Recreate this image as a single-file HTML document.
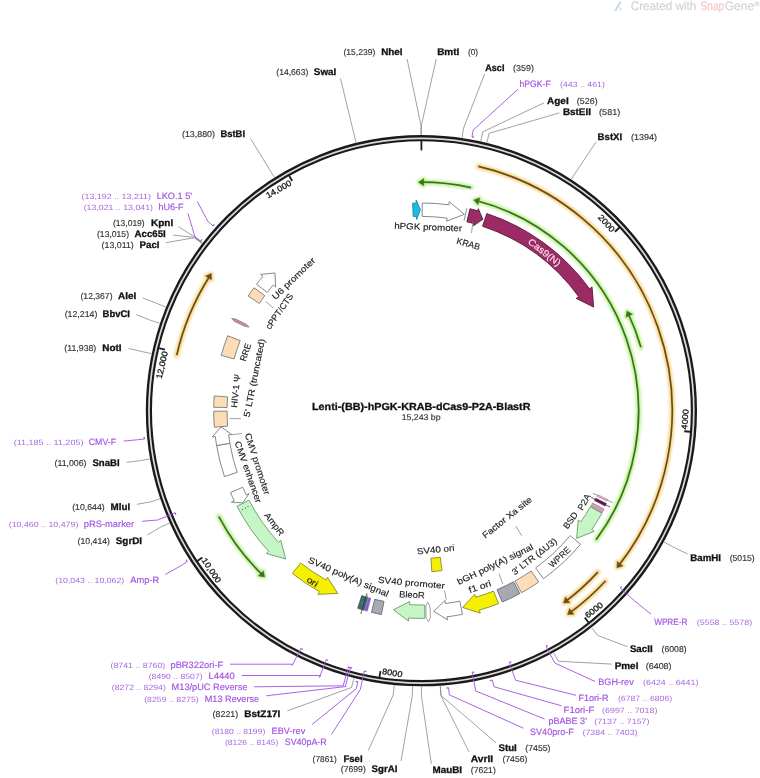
<!DOCTYPE html>
<html><head><meta charset="utf-8"><style>
html,body{margin:0;padding:0;background:#fff;}
svg{display:block;font-family:"Liberation Sans",sans-serif;will-change:transform;text-rendering:geometricPrecision;}
</style></head><body>
<svg width="760" height="778" viewBox="0 0 760 778">
<defs><filter id="glow" x="-20%" y="-20%" width="140%" height="140%"><feGaussianBlur stdDeviation="0.9"/></filter></defs>
<rect width="760" height="778" fill="#fff"/>
<g filter="url(#glow)"><path d="M470.97,187.64 A228.50,228.50 0 0 0 421.59,182.20" fill="none" stroke="#c2f29a" stroke-width="5.5" stroke-linecap="round"/>
<path d="M418.41,182.22 L423.75,178.61 L423.67,185.81 Z" fill="#c2f29a" stroke="#c2f29a" stroke-width="4" stroke-linejoin="round"/></g>
<path d="M470.97,187.64 A228.50,228.50 0 0 0 421.59,182.20" fill="none" stroke="#3a7220" stroke-width="1.7"/>
<path d="M418.41,182.22 L423.75,178.61 L423.67,185.81 Z" fill="#3a7220" stroke="#3a7220" stroke-width="0.4"/>
<g filter="url(#glow)"><path d="M218.90,516.56 A228.50,228.50 0 0 0 262.39,574.80" fill="none" stroke="#c2f29a" stroke-width="5.5" stroke-linecap="round"/>
<path d="M264.69,577.00 L258.35,575.88 L263.40,570.75 Z" fill="#c2f29a" stroke="#c2f29a" stroke-width="4" stroke-linejoin="round"/></g>
<path d="M218.90,516.56 A228.50,228.50 0 0 0 262.39,574.80" fill="none" stroke="#3a7220" stroke-width="1.7"/>
<path d="M264.69,577.00 L258.35,575.88 L263.40,570.75 Z" fill="#3a7220" stroke="#3a7220" stroke-width="0.4"/>
<g filter="url(#glow)"><path d="M640.94,347.33 A228.50,228.50 0 0 0 628.32,313.76" fill="none" stroke="#c2f29a" stroke-width="5.5" stroke-linecap="round"/>
<path d="M626.95,310.89 L632.48,314.19 L625.93,317.18 Z" fill="#c2f29a" stroke="#c2f29a" stroke-width="4" stroke-linejoin="round"/></g>
<path d="M640.94,347.33 A228.50,228.50 0 0 0 628.32,313.76" fill="none" stroke="#3a7220" stroke-width="1.7"/>
<path d="M626.95,310.89 L632.48,314.19 L625.93,317.18 Z" fill="#3a7220" stroke="#3a7220" stroke-width="0.4"/>
<g filter="url(#glow)"><path d="M596.07,539.80 A217.20,217.20 0 0 0 476.84,200.70" fill="none" stroke="#c2f29a" stroke-width="5.5" stroke-linecap="round"/>
<path d="M473.76,199.91 L479.84,197.77 L477.94,204.72 Z" fill="#c2f29a" stroke="#c2f29a" stroke-width="4" stroke-linejoin="round"/></g>
<path d="M596.07,539.80 A217.20,217.20 0 0 0 476.84,200.70" fill="none" stroke="#3a7220" stroke-width="1.7"/>
<path d="M473.76,199.91 L479.84,197.77 L477.94,204.72 Z" fill="#3a7220" stroke="#3a7220" stroke-width="0.4"/>
<g filter="url(#glow)"><path d="M478.33,166.45 A250.80,250.80 0 0 1 618.83,565.36" fill="none" stroke="#f6d890" stroke-width="5.5" stroke-linecap="round"/>
<path d="M616.86,567.85 L622.99,565.88 L617.28,561.49 Z" fill="#f6d890" stroke="#f6d890" stroke-width="4" stroke-linejoin="round"/></g>
<path d="M478.33,166.45 A250.80,250.80 0 0 1 618.83,565.36" fill="none" stroke="#6e4c14" stroke-width="1.7"/>
<path d="M616.86,567.85 L622.99,565.88 L617.28,561.49 Z" fill="#6e4c14" stroke="#6e4c14" stroke-width="0.4"/>
<g filter="url(#glow)"><path d="M605.51,581.01 A250.80,250.80 0 0 1 570.08,612.68" fill="none" stroke="#f6d890" stroke-width="5.5" stroke-linecap="round"/>
<path d="M567.50,614.55 L573.94,614.30 L569.62,608.54 Z" fill="#f6d890" stroke="#f6d890" stroke-width="4" stroke-linejoin="round"/></g>
<path d="M605.51,581.01 A250.80,250.80 0 0 1 570.08,612.68" fill="none" stroke="#6e4c14" stroke-width="1.7"/>
<path d="M567.50,614.55 L573.94,614.30 L569.62,608.54 Z" fill="#6e4c14" stroke="#6e4c14" stroke-width="0.4"/>
<g filter="url(#glow)"><path d="M597.80,572.11 A239.10,239.10 0 0 1 566.00,601.12" fill="none" stroke="#f6d890" stroke-width="5.5" stroke-linecap="round"/>
<path d="M563.45,603.03 L569.88,602.68 L565.48,596.98 Z" fill="#f6d890" stroke="#f6d890" stroke-width="4" stroke-linejoin="round"/></g>
<path d="M597.80,572.11 A239.10,239.10 0 0 1 566.00,601.12" fill="none" stroke="#6e4c14" stroke-width="1.7"/>
<path d="M563.45,603.03 L569.88,602.68 L565.48,596.98 Z" fill="#6e4c14" stroke="#6e4c14" stroke-width="0.4"/>
<g filter="url(#glow)"><path d="M176.74,355.11 A250.90,250.90 0 0 1 209.61,276.17" fill="none" stroke="#f6d890" stroke-width="5.5" stroke-linecap="round"/>
<path d="M211.34,273.50 L205.43,276.06 L211.54,279.87 Z" fill="#f6d890" stroke="#f6d890" stroke-width="4" stroke-linejoin="round"/></g>
<path d="M176.74,355.11 A250.90,250.90 0 0 1 209.61,276.17" fill="none" stroke="#6e4c14" stroke-width="1.7"/>
<path d="M211.34,273.50 L205.43,276.06 L211.54,279.87 Z" fill="#6e4c14" stroke="#6e4c14" stroke-width="0.4"/>
<circle cx="421.4" cy="410.7" r="272.5" fill="none" stroke="#1a1a1a" stroke-width="6.2"/>
<circle cx="421.4" cy="410.7" r="272.4" fill="none" stroke="#dadada" stroke-width="1.7"/>
<line x1="421.40" y1="140.90" x2="421.40" y2="150.40" stroke="#1e1e1e" stroke-width="1.8"/>
<line x1="619.47" y1="227.51" x2="614.92" y2="231.72" stroke="#1e1e1e" stroke-width="1.8"/>
<text transform="translate(606.59 223.11) rotate(47.23)" x="0" y="2.99" font-size="8.3" fill="#1a1a1a" text-anchor="middle" stroke="#1a1a1a" stroke-width="0.3" textLength="20.36" lengthAdjust="spacingAndGlyphs">2000</text>
<line x1="690.38" y1="431.73" x2="684.20" y2="431.24" stroke="#1e1e1e" stroke-width="1.8"/>
<text transform="translate(684.86 419.28) rotate(-85.53)" x="0" y="2.99" font-size="8.3" fill="#1a1a1a" text-anchor="middle" stroke="#1a1a1a" stroke-width="0.3" textLength="20.36" lengthAdjust="spacingAndGlyphs">4000</text>
<line x1="588.60" y1="622.45" x2="584.76" y2="617.58" stroke="#1e1e1e" stroke-width="1.8"/>
<text transform="translate(593.99 609.94) rotate(-38.30)" x="0" y="2.99" font-size="8.3" fill="#1a1a1a" text-anchor="middle" stroke="#1a1a1a" stroke-width="0.3" textLength="20.36" lengthAdjust="spacingAndGlyphs">6000</text>
<line x1="379.48" y1="677.22" x2="380.44" y2="671.10" stroke="#1e1e1e" stroke-width="1.8"/>
<text transform="translate(392.32 672.69) rotate(8.94)" x="0" y="2.99" font-size="8.3" fill="#1a1a1a" text-anchor="middle" stroke="#1a1a1a" stroke-width="0.3" textLength="20.36" lengthAdjust="spacingAndGlyphs">8000</text>
<line x1="197.27" y1="560.89" x2="202.42" y2="557.44" stroke="#1e1e1e" stroke-width="1.8"/>
<text transform="translate(211.60 570.29) rotate(56.17)" x="0" y="2.99" font-size="8.3" fill="#1a1a1a" text-anchor="middle" stroke="#1a1a1a" stroke-width="0.3" textLength="27.99" lengthAdjust="spacingAndGlyphs">10,000</text>
<line x1="158.95" y1="348.13" x2="164.99" y2="349.57" stroke="#1e1e1e" stroke-width="1.8"/>
<text transform="translate(161.78 365.04) rotate(-76.59)" x="0" y="2.99" font-size="8.3" fill="#1a1a1a" text-anchor="middle" stroke="#1a1a1a" stroke-width="0.3" textLength="27.99" lengthAdjust="spacingAndGlyphs">12,000</text>
<line x1="289.13" y1="175.55" x2="292.17" y2="180.95" stroke="#1e1e1e" stroke-width="1.8"/>
<text transform="translate(278.64 189.10) rotate(-29.36)" x="0" y="2.99" font-size="8.3" fill="#1a1a1a" text-anchor="middle" stroke="#1a1a1a" stroke-width="0.3" textLength="27.99" lengthAdjust="spacingAndGlyphs">14,000</text>
<polyline points="420.95,134.90 420.93,125.20 407.10,59.10" fill="none" stroke="#8a8a8a" stroke-width="0.8"/>
<polyline points="421.40,134.90 421.40,125.20 436.20,59.10" fill="none" stroke="#8a8a8a" stroke-width="0.8"/>
<polyline points="356.09,142.74 353.79,133.32 340.50,78.50" fill="none" stroke="#8a8a8a" stroke-width="0.8"/>
<polyline points="462.06,137.91 463.49,128.32 484.70,73.80" fill="none" stroke="#8a8a8a" stroke-width="0.8"/>
<polyline points="480.73,141.36 482.82,131.88 544.10,102.80" fill="none" stroke="#8a8a8a" stroke-width="0.8"/>
<polyline points="486.82,142.77 489.12,133.35 559.40,112.90" fill="none" stroke="#8a8a8a" stroke-width="0.8"/>
<polyline points="571.30,179.19 576.57,171.05 596.20,141.80" fill="none" stroke="#8a8a8a" stroke-width="0.8"/>
<polyline points="274.47,177.30 269.30,169.09 250.50,138.50" fill="none" stroke="#8a8a8a" stroke-width="0.8"/>
<polyline points="202.52,242.90 194.82,237.00 178.40,226.70" fill="none" stroke="#8a8a8a" stroke-width="0.8"/>
<polyline points="202.24,243.26 194.54,237.37 173.20,235.20" fill="none" stroke="#8a8a8a" stroke-width="0.8"/>
<polyline points="201.97,243.62 194.25,237.75 165.80,242.70" fill="none" stroke="#8a8a8a" stroke-width="0.8"/>
<polyline points="165.82,307.04 156.83,303.40 142.60,297.90" fill="none" stroke="#8a8a8a" stroke-width="0.8"/>
<polyline points="159.80,323.36 150.59,320.28 136.30,314.70" fill="none" stroke="#8a8a8a" stroke-width="0.8"/>
<polyline points="151.57,353.62 142.08,351.61 128.30,348.40" fill="none" stroke="#8a8a8a" stroke-width="0.8"/>
<polyline points="149.85,458.91 140.30,460.60 126.70,462.40" fill="none" stroke="#8a8a8a" stroke-width="0.8"/>
<polyline points="160.03,498.74 150.84,501.84 136.90,504.30" fill="none" stroke="#8a8a8a" stroke-width="0.8"/>
<polyline points="169.54,523.09 160.68,527.04 147.40,535.00" fill="none" stroke="#8a8a8a" stroke-width="0.8"/>
<polyline points="353.94,678.12 351.56,687.53 287.40,710.80" fill="none" stroke="#8a8a8a" stroke-width="0.8"/>
<polyline points="394.22,685.16 393.26,694.81 368.40,750.50" fill="none" stroke="#8a8a8a" stroke-width="0.8"/>
<polyline points="412.59,686.36 412.28,696.05 401.00,761.00" fill="none" stroke="#8a8a8a" stroke-width="0.8"/>
<polyline points="421.46,686.50 421.46,696.20 431.30,763.70" fill="none" stroke="#8a8a8a" stroke-width="0.8"/>
<polyline points="440.20,685.86 440.86,695.54 469.00,751.80" fill="none" stroke="#8a8a8a" stroke-width="0.8"/>
<polyline points="440.31,685.85 440.98,695.53 495.80,742.60" fill="none" stroke="#8a8a8a" stroke-width="0.8"/>
<polyline points="553.68,652.71 558.33,661.22 611.60,664.10" fill="none" stroke="#8a8a8a" stroke-width="0.8"/>
<polyline points="591.60,627.72 597.59,635.35 627.40,646.70" fill="none" stroke="#8a8a8a" stroke-width="0.8"/>
<polyline points="663.91,542.05 672.44,546.67 687.60,554.00" fill="none" stroke="#8a8a8a" stroke-width="0.8"/>
<path d="M471.97,136.83 A278.50,278.50 0 0 1 474.00,137.21" fill="none" stroke="#a050e0" stroke-width="1.2"/>
<polyline points="471.97,136.83 473.24,129.95 518.00,89.20" fill="none" stroke="#a050e0" stroke-width="0.9" stroke-linejoin="round"/>
<path d="M213.01,225.94 A278.50,278.50 0 0 1 214.46,224.31" fill="none" stroke="#a050e0" stroke-width="1.2"/>
<polyline points="213.01,225.94 207.77,221.30 197.40,201.50" fill="none" stroke="#a050e0" stroke-width="0.9" stroke-linejoin="round"/>
<path d="M200.52,241.07 A278.50,278.50 0 0 1 201.92,239.26" fill="none" stroke="#a050e0" stroke-width="1.2"/>
<polyline points="200.52,241.07 194.96,236.81 187.90,213.30" fill="none" stroke="#a050e0" stroke-width="0.9" stroke-linejoin="round"/>
<path d="M144.35,439.03 A278.50,278.50 0 0 1 144.12,436.75" fill="none" stroke="#a050e0" stroke-width="1.2"/>
<polyline points="144.35,439.03 137.38,439.75 123.60,441.10" fill="none" stroke="#a050e0" stroke-width="0.9" stroke-linejoin="round"/>
<path d="M175.12,512.78 A266.60,266.60 0 0 0 175.92,514.71" fill="none" stroke="#a050e0" stroke-width="1.2"/>
<polyline points="175.12,512.78 157.66,520.02 142.10,521.30" fill="none" stroke="#a050e0" stroke-width="0.9" stroke-linejoin="round"/>
<path d="M187.33,561.61 A278.50,278.50 0 0 1 186.16,559.77" fill="none" stroke="#a050e0" stroke-width="1.2"/>
<polyline points="187.33,561.61 181.45,565.40 165.30,574.50" fill="none" stroke="#a050e0" stroke-width="0.9" stroke-linejoin="round"/>
<path d="M300.83,648.48 A266.60,266.60 0 0 0 302.69,649.41" fill="none" stroke="#a050e0" stroke-width="1.2"/>
<polyline points="300.83,648.48 292.28,665.33 292.10,664.20 230.00,664.20" fill="none" stroke="#a050e0" stroke-width="0.9" stroke-linejoin="round"/>
<path d="M326.24,659.74 A266.60,266.60 0 0 0 327.98,660.40" fill="none" stroke="#a050e0" stroke-width="1.2"/>
<polyline points="326.24,659.74 319.49,677.39 320.50,675.50 241.60,675.50" fill="none" stroke="#a050e0" stroke-width="0.9" stroke-linejoin="round"/>
<path d="M348.44,667.12 A266.60,266.60 0 0 0 350.77,667.77" fill="none" stroke="#a050e0" stroke-width="1.2"/>
<polyline points="348.44,667.12 343.27,685.30 343.40,685.80 254.00,686.80" fill="none" stroke="#a050e0" stroke-width="0.9" stroke-linejoin="round"/>
<path d="M350.45,667.69 A266.60,266.60 0 0 0 352.15,668.15" fill="none" stroke="#a050e0" stroke-width="1.2"/>
<polyline points="350.45,667.69 345.42,685.90 346.00,686.50 266.30,695.80" fill="none" stroke="#a050e0" stroke-width="0.9" stroke-linejoin="round"/>
<path d="M357.85,681.85 A278.50,278.50 0 0 1 355.73,681.35" fill="none" stroke="#a050e0" stroke-width="1.2"/>
<polyline points="357.85,681.85 356.25,688.67 311.80,724.70" fill="none" stroke="#a050e0" stroke-width="0.9" stroke-linejoin="round"/>
<path d="M364.32,671.12 A266.60,266.60 0 0 0 366.36,671.56" fill="none" stroke="#a050e0" stroke-width="1.2"/>
<polyline points="364.32,671.12 360.27,689.58 331.60,734.20" fill="none" stroke="#a050e0" stroke-width="0.9" stroke-linejoin="round"/>
<path d="M448.62,687.87 A278.50,278.50 0 0 1 446.45,688.07" fill="none" stroke="#a050e0" stroke-width="1.2"/>
<polyline points="448.62,687.87 449.31,694.83 523.40,728.20" fill="none" stroke="#a050e0" stroke-width="0.9" stroke-linejoin="round"/>
<path d="M472.13,672.43 A266.60,266.60 0 0 0 474.29,672.00" fill="none" stroke="#a050e0" stroke-width="1.2"/>
<polyline points="472.13,672.43 475.73,690.98 544.50,719.00" fill="none" stroke="#a050e0" stroke-width="0.9" stroke-linejoin="round"/>
<path d="M492.30,680.02 A278.50,278.50 0 0 1 489.97,680.63" fill="none" stroke="#a050e0" stroke-width="1.2"/>
<polyline points="492.30,680.02 494.08,686.79 561.60,705.80" fill="none" stroke="#a050e0" stroke-width="0.9" stroke-linejoin="round"/>
<path d="M509.34,662.38 A266.60,266.60 0 0 0 511.31,661.68" fill="none" stroke="#a050e0" stroke-width="1.2"/>
<polyline points="509.34,662.38 515.57,680.22 576.00,695.30" fill="none" stroke="#a050e0" stroke-width="0.9" stroke-linejoin="round"/>
<path d="M546.07,646.35 A266.60,266.60 0 0 0 547.72,645.48" fill="none" stroke="#a050e0" stroke-width="1.2"/>
<polyline points="546.07,646.35 554.91,663.06 595.00,681.50" fill="none" stroke="#a050e0" stroke-width="0.9" stroke-linejoin="round"/>
<path d="M620.34,588.18 A266.60,266.60 0 0 0 621.79,586.54" fill="none" stroke="#a050e0" stroke-width="1.2"/>
<polyline points="620.34,588.18 634.44,600.76 651.00,614.20" fill="none" stroke="#a050e0" stroke-width="0.9" stroke-linejoin="round"/>
<text x="343.50" y="54.80" font-size="8.5" fill="#333" stroke="#333" stroke-width="0.15" textLength="31.80" lengthAdjust="spacingAndGlyphs" >(15,239)</text>
<text x="381.20" y="54.80" font-size="9.6" fill="#111" font-weight="bold" stroke="#111" stroke-width="0.3" textLength="21.40" lengthAdjust="spacingAndGlyphs" >NheI</text>
<text x="437.20" y="54.80" font-size="9.6" fill="#111" font-weight="bold" stroke="#111" stroke-width="0.3" textLength="22.10" lengthAdjust="spacingAndGlyphs" >BmtI</text>
<text x="468.00" y="54.80" font-size="8.5" fill="#333" stroke="#333" stroke-width="0.15" textLength="10.10" lengthAdjust="spacingAndGlyphs" >(0)</text>
<text x="276.30" y="75.00" font-size="8.5" fill="#333" stroke="#333" stroke-width="0.15" textLength="32.00" lengthAdjust="spacingAndGlyphs" >(14,663)</text>
<text x="313.80" y="75.00" font-size="9.6" fill="#111" font-weight="bold" stroke="#111" stroke-width="0.3" textLength="22.50" lengthAdjust="spacingAndGlyphs" >SwaI</text>
<text x="485.30" y="70.90" font-size="9.6" fill="#111" font-weight="bold" stroke="#111" stroke-width="0.3" textLength="19.10" lengthAdjust="spacingAndGlyphs" >AscI</text>
<text x="513.10" y="70.90" font-size="8.5" fill="#333" stroke="#333" stroke-width="0.15" textLength="20.90" lengthAdjust="spacingAndGlyphs" >(359)</text>
<text x="547.00" y="103.60" font-size="9.6" fill="#111" font-weight="bold" stroke="#111" stroke-width="0.3" textLength="21.70" lengthAdjust="spacingAndGlyphs" >AgeI</text>
<text x="576.80" y="103.60" font-size="8.5" fill="#333" stroke="#333" stroke-width="0.15" textLength="20.80" lengthAdjust="spacingAndGlyphs" >(526)</text>
<text x="562.90" y="115.20" font-size="9.6" fill="#111" font-weight="bold" stroke="#111" stroke-width="0.3" textLength="28.10" lengthAdjust="spacingAndGlyphs" >BstEII</text>
<text x="599.10" y="115.20" font-size="8.5" fill="#333" stroke="#333" stroke-width="0.15" textLength="21.10" lengthAdjust="spacingAndGlyphs" >(581)</text>
<text x="597.60" y="140.40" font-size="9.6" fill="#111" font-weight="bold" stroke="#111" stroke-width="0.3" textLength="24.60" lengthAdjust="spacingAndGlyphs" >BstXI</text>
<text x="631.00" y="140.40" font-size="8.5" fill="#333" stroke="#333" stroke-width="0.15" textLength="26.00" lengthAdjust="spacingAndGlyphs" >(1394)</text>
<text x="182.00" y="137.00" font-size="8.5" fill="#333" stroke="#333" stroke-width="0.15" textLength="33.00" lengthAdjust="spacingAndGlyphs" >(13,880)</text>
<text x="220.50" y="137.00" font-size="9.6" fill="#111" font-weight="bold" stroke="#111" stroke-width="0.3" textLength="24.50" lengthAdjust="spacingAndGlyphs" >BstBI</text>
<text x="113.00" y="226.30" font-size="8.5" fill="#333" stroke="#333" stroke-width="0.15" textLength="31.70" lengthAdjust="spacingAndGlyphs" >(13,019)</text>
<text x="151.00" y="226.30" font-size="9.6" fill="#111" font-weight="bold" stroke="#111" stroke-width="0.3" textLength="22.20" lengthAdjust="spacingAndGlyphs" >KpnI</text>
<text x="97.00" y="237.30" font-size="8.5" fill="#333" stroke="#333" stroke-width="0.15" textLength="32.00" lengthAdjust="spacingAndGlyphs" >(13,015)</text>
<text x="134.60" y="237.30" font-size="9.6" fill="#111" font-weight="bold" stroke="#111" stroke-width="0.3" textLength="31.20" lengthAdjust="spacingAndGlyphs" >Acc65I</text>
<text x="101.60" y="248.40" font-size="8.5" fill="#333" stroke="#333" stroke-width="0.15" textLength="32.20" lengthAdjust="spacingAndGlyphs" >(13,011)</text>
<text x="139.50" y="248.40" font-size="9.6" fill="#111" font-weight="bold" stroke="#111" stroke-width="0.3" textLength="20.00" lengthAdjust="spacingAndGlyphs" >PacI</text>
<text x="80.50" y="299.00" font-size="8.5" fill="#333" stroke="#333" stroke-width="0.15" textLength="32.00" lengthAdjust="spacingAndGlyphs" >(12,367)</text>
<text x="118.00" y="299.00" font-size="9.6" fill="#111" font-weight="bold" stroke="#111" stroke-width="0.3" textLength="18.30" lengthAdjust="spacingAndGlyphs" >AleI</text>
<text x="64.70" y="316.80" font-size="8.5" fill="#333" stroke="#333" stroke-width="0.15" textLength="32.70" lengthAdjust="spacingAndGlyphs" >(12,214)</text>
<text x="102.60" y="316.80" font-size="9.6" fill="#111" font-weight="bold" stroke="#111" stroke-width="0.3" textLength="27.40" lengthAdjust="spacingAndGlyphs" >BbvCI</text>
<text x="64.30" y="351.00" font-size="8.5" fill="#333" stroke="#333" stroke-width="0.15" textLength="32.00" lengthAdjust="spacingAndGlyphs" >(11,938)</text>
<text x="102.20" y="351.00" font-size="9.6" fill="#111" font-weight="bold" stroke="#111" stroke-width="0.3" textLength="19.40" lengthAdjust="spacingAndGlyphs" >NotI</text>
<text x="54.50" y="466.40" font-size="8.5" fill="#333" stroke="#333" stroke-width="0.15" textLength="32.00" lengthAdjust="spacingAndGlyphs" >(11,006)</text>
<text x="92.40" y="466.40" font-size="9.6" fill="#111" font-weight="bold" stroke="#111" stroke-width="0.3" textLength="27.20" lengthAdjust="spacingAndGlyphs" >SnaBI</text>
<text x="72.20" y="510.30" font-size="8.5" fill="#333" stroke="#333" stroke-width="0.15" textLength="32.50" lengthAdjust="spacingAndGlyphs" >(10,644)</text>
<text x="110.60" y="510.30" font-size="9.6" fill="#111" font-weight="bold" stroke="#111" stroke-width="0.3" textLength="19.70" lengthAdjust="spacingAndGlyphs" >MluI</text>
<text x="77.60" y="543.70" font-size="8.5" fill="#333" stroke="#333" stroke-width="0.15" textLength="32.40" lengthAdjust="spacingAndGlyphs" >(10,414)</text>
<text x="115.80" y="543.70" font-size="9.6" fill="#111" font-weight="bold" stroke="#111" stroke-width="0.3" textLength="26.30" lengthAdjust="spacingAndGlyphs" >SgrDI</text>
<text x="212.60" y="717.40" font-size="8.5" fill="#333" stroke="#333" stroke-width="0.15" textLength="25.60" lengthAdjust="spacingAndGlyphs" >(8221)</text>
<text x="244.20" y="717.40" font-size="9.6" fill="#111" font-weight="bold" stroke="#111" stroke-width="0.3" textLength="36.10" lengthAdjust="spacingAndGlyphs" >BstZ17I</text>
<text x="312.60" y="761.60" font-size="8.5" fill="#333" stroke="#333" stroke-width="0.15" textLength="24.20" lengthAdjust="spacingAndGlyphs" >(7861)</text>
<text x="343.40" y="761.60" font-size="9.6" fill="#111" font-weight="bold" stroke="#111" stroke-width="0.3" textLength="19.20" lengthAdjust="spacingAndGlyphs" >FseI</text>
<text x="340.80" y="772.10" font-size="8.5" fill="#333" stroke="#333" stroke-width="0.15" textLength="25.00" lengthAdjust="spacingAndGlyphs" >(7699)</text>
<text x="371.60" y="772.10" font-size="9.6" fill="#111" font-weight="bold" stroke="#111" stroke-width="0.3" textLength="25.80" lengthAdjust="spacingAndGlyphs" >SgrAI</text>
<text x="432.60" y="772.90" font-size="9.6" fill="#111" font-weight="bold" stroke="#111" stroke-width="0.3" textLength="29.50" lengthAdjust="spacingAndGlyphs" >MauBI</text>
<text x="470.80" y="772.90" font-size="8.5" fill="#333" stroke="#333" stroke-width="0.15" textLength="25.00" lengthAdjust="spacingAndGlyphs" >(7621)</text>
<text x="470.80" y="762.40" font-size="9.6" fill="#111" font-weight="bold" stroke="#111" stroke-width="0.3" textLength="22.40" lengthAdjust="spacingAndGlyphs" >AvrII</text>
<text x="502.40" y="762.40" font-size="8.5" fill="#333" stroke="#333" stroke-width="0.15" textLength="25.00" lengthAdjust="spacingAndGlyphs" >(7456)</text>
<text x="498.40" y="751.00" font-size="9.6" fill="#111" font-weight="bold" stroke="#111" stroke-width="0.3" textLength="18.40" lengthAdjust="spacingAndGlyphs" >StuI</text>
<text x="525.30" y="751.00" font-size="8.5" fill="#333" stroke="#333" stroke-width="0.15" textLength="25.20" lengthAdjust="spacingAndGlyphs" >(7455)</text>
<text x="614.70" y="668.80" font-size="9.6" fill="#111" font-weight="bold" stroke="#111" stroke-width="0.3" textLength="23.70" lengthAdjust="spacingAndGlyphs" >PmeI</text>
<text x="645.70" y="668.80" font-size="8.5" fill="#333" stroke="#333" stroke-width="0.15" textLength="25.90" lengthAdjust="spacingAndGlyphs" >(6408)</text>
<text x="629.90" y="652.10" font-size="9.6" fill="#111" font-weight="bold" stroke="#111" stroke-width="0.3" textLength="22.70" lengthAdjust="spacingAndGlyphs" >SacII</text>
<text x="661.50" y="652.10" font-size="8.5" fill="#333" stroke="#333" stroke-width="0.15" textLength="25.20" lengthAdjust="spacingAndGlyphs" >(6008)</text>
<text x="690.30" y="561.00" font-size="9.6" fill="#111" font-weight="bold" stroke="#111" stroke-width="0.3" textLength="30.70" lengthAdjust="spacingAndGlyphs" >BamHI</text>
<text x="729.70" y="561.00" font-size="8.5" fill="#333" stroke="#333" stroke-width="0.15" textLength="25.00" lengthAdjust="spacingAndGlyphs" >(5015)</text>
<text x="519.50" y="87.40" font-size="9.2" fill="#a050e0" stroke="#a050e0" stroke-width="0.15" textLength="31.20" lengthAdjust="spacingAndGlyphs" >hPGK-F</text>
<text x="560.00" y="87.40" font-size="7.7" fill="#a868e0" textLength="44.90" lengthAdjust="spacingAndGlyphs" >(443 .. 461)</text>
<text x="81.60" y="199.00" font-size="7.7" fill="#a868e0" textLength="69.40" lengthAdjust="spacingAndGlyphs" >(13,192 .. 13,211)</text>
<text x="156.70" y="199.00" font-size="9.2" fill="#a050e0" stroke="#a050e0" stroke-width="0.15" textLength="35.30" lengthAdjust="spacingAndGlyphs" >LKO.1 5'</text>
<text x="83.70" y="209.90" font-size="7.7" fill="#a868e0" textLength="69.30" lengthAdjust="spacingAndGlyphs" >(13,021 .. 13,041)</text>
<text x="158.40" y="209.90" font-size="9.2" fill="#a050e0" stroke="#a050e0" stroke-width="0.15" textLength="25.30" lengthAdjust="spacingAndGlyphs" >hU6-F</text>
<text x="13.70" y="445.10" font-size="7.7" fill="#a868e0" textLength="69.70" lengthAdjust="spacingAndGlyphs" >(11,185 .. 11,205)</text>
<text x="88.80" y="445.10" font-size="9.2" fill="#a050e0" stroke="#a050e0" stroke-width="0.15" textLength="27.20" lengthAdjust="spacingAndGlyphs" >CMV-F</text>
<text x="8.70" y="526.60" font-size="7.7" fill="#a868e0" textLength="69.70" lengthAdjust="spacingAndGlyphs" >(10,460 .. 10,479)</text>
<text x="83.70" y="526.60" font-size="9.2" fill="#a050e0" stroke="#a050e0" stroke-width="0.15" textLength="50.50" lengthAdjust="spacingAndGlyphs" >pRS-marker</text>
<text x="55.30" y="583.20" font-size="7.7" fill="#a868e0" textLength="68.90" lengthAdjust="spacingAndGlyphs" >(10,043 .. 10,062)</text>
<text x="130.30" y="583.20" font-size="9.2" fill="#a050e0" stroke="#a050e0" stroke-width="0.15" textLength="28.90" lengthAdjust="spacingAndGlyphs" >Amp-R</text>
<text x="110.50" y="668.20" font-size="7.7" fill="#a868e0" textLength="54.80" lengthAdjust="spacingAndGlyphs" >(8741 .. 8760)</text>
<text x="170.50" y="668.20" font-size="9.2" fill="#a050e0" stroke="#a050e0" stroke-width="0.15" textLength="52.70" lengthAdjust="spacingAndGlyphs" >pBR322ori-F</text>
<text x="148.70" y="679.20" font-size="7.7" fill="#a868e0" textLength="53.90" lengthAdjust="spacingAndGlyphs" >(8490 .. 8507)</text>
<text x="208.40" y="679.20" font-size="9.2" fill="#a050e0" stroke="#a050e0" stroke-width="0.15" textLength="26.30" lengthAdjust="spacingAndGlyphs" >L4440</text>
<text x="111.80" y="690.30" font-size="7.7" fill="#a868e0" textLength="54.00" lengthAdjust="spacingAndGlyphs" >(8272 .. 8294)</text>
<text x="171.60" y="690.30" font-size="9.2" fill="#a050e0" stroke="#a050e0" stroke-width="0.15" textLength="75.80" lengthAdjust="spacingAndGlyphs" >M13/pUC Reverse</text>
<text x="144.20" y="701.60" font-size="7.7" fill="#a868e0" textLength="54.50" lengthAdjust="spacingAndGlyphs" >(8259 .. 8275)</text>
<text x="204.70" y="701.60" font-size="9.2" fill="#a050e0" stroke="#a050e0" stroke-width="0.15" textLength="54.50" lengthAdjust="spacingAndGlyphs" >M13 Reverse</text>
<text x="211.80" y="734.20" font-size="7.7" fill="#a868e0" textLength="53.50" lengthAdjust="spacingAndGlyphs" >(8180 .. 8199)</text>
<text x="271.60" y="734.20" font-size="9.2" fill="#a050e0" stroke="#a050e0" stroke-width="0.15" textLength="33.70" lengthAdjust="spacingAndGlyphs" >EBV-rev</text>
<text x="225.00" y="744.70" font-size="7.7" fill="#a868e0" textLength="53.40" lengthAdjust="spacingAndGlyphs" >(8126 .. 8145)</text>
<text x="284.70" y="744.70" font-size="9.2" fill="#a050e0" stroke="#a050e0" stroke-width="0.15" textLength="42.10" lengthAdjust="spacingAndGlyphs" >SV40pA-R</text>
<text x="530.10" y="735.10" font-size="9.2" fill="#a050e0" stroke="#a050e0" stroke-width="0.15" textLength="43.60" lengthAdjust="spacingAndGlyphs" >SV40pro-F</text>
<text x="582.50" y="735.10" font-size="7.7" fill="#a868e0" textLength="55.00" lengthAdjust="spacingAndGlyphs" >(7384 .. 7403)</text>
<text x="548.40" y="723.80" font-size="9.2" fill="#a050e0" stroke="#a050e0" stroke-width="0.15" textLength="38.50" lengthAdjust="spacingAndGlyphs" >pBABE 3'</text>
<text x="594.20" y="723.80" font-size="7.7" fill="#a868e0" textLength="55.30" lengthAdjust="spacingAndGlyphs" >(7137 .. 7157)</text>
<text x="563.60" y="712.70" font-size="9.2" fill="#a050e0" stroke="#a050e0" stroke-width="0.15" textLength="30.60" lengthAdjust="spacingAndGlyphs" >F1ori-F</text>
<text x="602.10" y="712.70" font-size="7.7" fill="#a868e0" textLength="55.30" lengthAdjust="spacingAndGlyphs" >(6997 .. 7018)</text>
<text x="578.40" y="701.00" font-size="9.2" fill="#a050e0" stroke="#a050e0" stroke-width="0.15" textLength="30.00" lengthAdjust="spacingAndGlyphs" >F1ori-R</text>
<text x="617.90" y="701.00" font-size="7.7" fill="#a868e0" textLength="54.30" lengthAdjust="spacingAndGlyphs" >(6787 .. 6806)</text>
<text x="598.30" y="685.30" font-size="9.2" fill="#a050e0" stroke="#a050e0" stroke-width="0.15" textLength="35.40" lengthAdjust="spacingAndGlyphs" >BGH-rev</text>
<text x="643.10" y="685.30" font-size="7.7" fill="#a868e0" textLength="55.30" lengthAdjust="spacingAndGlyphs" >(6424 .. 6441)</text>
<text x="654.20" y="624.60" font-size="9.2" fill="#a050e0" stroke="#a050e0" stroke-width="0.15" textLength="33.20" lengthAdjust="spacingAndGlyphs" >WPRE-R</text>
<text x="696.80" y="624.60" font-size="7.7" fill="#a868e0" textLength="55.30" lengthAdjust="spacingAndGlyphs" >(5558 .. 5578)</text>
<path d="M412.63,203.19 A207.70,207.70 0 0 1 416.22,203.06 L416.14,199.97 L420.38,209.70 L416.63,219.56 L416.55,216.46 A194.30,194.30 0 0 0 413.20,216.57 Z" fill="#1bbbe6" stroke="#1f86a8" stroke-width="0.9" stroke-linejoin="miter"/>
<path d="M422.23,203.00 A207.70,207.70 0 0 1 448.87,204.82 L449.28,201.75 L464.36,214.34 L446.69,221.18 L447.10,218.11 A194.30,194.30 0 0 0 422.18,216.40 Z" fill="#ffffff" stroke="#7a7a7a" stroke-width="0.9" stroke-linejoin="miter"/>
<line x1="464.04" y1="220.73" x2="466.82" y2="208.33" stroke="#7c9898" stroke-width="1.0"/>
<path d="M469.99,208.76 A207.70,207.70 0 0 1 477.67,210.77 L478.27,208.65 L482.84,219.32 L473.45,225.79 L474.04,223.67 A194.30,194.30 0 0 0 466.86,221.79 Z" fill="#9c2b65" stroke="#5a1838" stroke-width="0.9" stroke-linejoin="miter"/>
<path d="M486.79,213.56 A207.70,207.70 0 0 1 589.54,288.76 L592.05,286.94 L593.65,307.12 L576.18,298.45 L578.69,296.63 A194.30,194.30 0 0 0 482.57,226.28 Z" fill="#9c2b65" stroke="#5a1838" stroke-width="0.9" stroke-linejoin="miter"/>
<line x1="593.06" y1="493.31" x2="612.43" y2="502.64" stroke="#8a7a88" stroke-width="0.8"/>
<path d="M607.86,499.44 A206.50,206.50 0 0 1 607.00,501.22 L597.11,496.40 A195.50,195.50 0 0 0 597.93,494.71 Z" fill="#dcaccb" stroke="#9a8090" stroke-width="0.5" />
<line x1="591.06" y1="497.33" x2="610.21" y2="507.11" stroke="#4a2a3a" stroke-width="0.8"/>
<path d="M606.41,503.55 A207.00,207.00 0 0 1 605.09,506.12 L594.45,500.59 A195.00,195.00 0 0 0 595.68,498.17 Z" fill="#5e1a48" stroke="#4a1a3a" stroke-width="0.5" />
<path d="M604.10,509.07 A207.50,207.50 0 0 1 602.00,512.88 L590.68,506.48 A194.50,194.50 0 0 0 592.65,502.91 Z" fill="#cfa0bc" stroke="#8a7080" stroke-width="0.6" />
<path d="M601.99,513.29 A207.70,207.70 0 0 1 591.75,529.53 L594.29,531.31 L576.65,538.36 L578.21,520.09 L580.76,521.87 A194.30,194.30 0 0 0 590.34,506.67 Z" fill="#c6f6c6" stroke="#6a9a6a" stroke-width="0.9" stroke-linejoin="miter"/>
<path d="M580.51,544.21 A207.70,207.70 0 0 1 543.48,578.73 L535.61,567.89 A194.30,194.30 0 0 0 570.24,535.59 Z" fill="#ffffff" stroke="#7a7a7a" stroke-width="0.9" />
<path d="M538.74,582.08 A207.70,207.70 0 0 1 521.46,592.71 L515.00,580.97 A194.30,194.30 0 0 0 531.17,571.02 Z" fill="#fddcb8" stroke="#7a7a7a" stroke-width="0.9" />
<path d="M519.87,593.58 A207.70,207.70 0 0 1 502.22,602.03 L497.01,589.69 A194.30,194.30 0 0 0 513.52,581.78 Z" fill="#a6aab0" stroke="#6a6a6a" stroke-width="0.9" />
<path d="M498.53,603.55 A207.70,207.70 0 0 1 479.35,610.15 L480.21,613.13 L462.61,607.43 L474.74,594.31 L475.61,597.29 A194.30,194.30 0 0 0 493.56,591.10 Z" fill="#f5ef00" stroke="#8a8a30" stroke-width="0.9" stroke-linejoin="miter"/>
<path d="M462.45,614.30 A207.70,207.70 0 0 1 447.07,616.81 L447.46,619.88 L433.78,611.32 L445.03,600.43 L445.42,603.51 A194.30,194.30 0 0 0 459.80,601.17 Z" fill="#ffffff" stroke="#7a7a7a" stroke-width="0.9" stroke-linejoin="miter"/>
<polygon points="428.40,621.58 426.10,617.65 425.84,606.15 427.75,602.09 429.93,606.01 430.43,617.50" fill="#ffffff" stroke="#7a7a7a" stroke-width="0.7"/>
<path d="M424.92,618.37 A207.70,207.70 0 0 1 408.72,618.01 L408.53,621.11 L393.43,609.74 L409.73,601.54 L409.54,604.64 A194.30,194.30 0 0 0 424.69,604.97 Z" fill="#c6f6c6" stroke="#6a9a6a" stroke-width="0.9" stroke-linejoin="miter"/>
<path d="M381.41,614.51 A207.70,207.70 0 0 1 371.50,612.32 L374.72,599.31 A194.30,194.30 0 0 0 383.99,601.37 Z" fill="#a6aab4" stroke="#666" stroke-width="0.9" />
<path d="M367.29,611.23 A207.70,207.70 0 0 1 364.85,610.55 L368.50,597.66 A194.30,194.30 0 0 0 370.78,598.29 Z" fill="#8a5ae0" stroke="#7a50c0" stroke-width="0.5" />
<path d="M364.15,610.35 A207.70,207.70 0 0 1 357.56,608.35 L361.68,595.59 A194.30,194.30 0 0 0 367.84,597.47 Z" fill="#3e6a6a" stroke="#2a4a4a" stroke-width="0.6" />
<path d="M362.63,602.92 A201.00,201.00 0 0 0 362.97,603.02" stroke="#fff" stroke-width="1" stroke-dasharray="1.5 1.5" fill="none"/>
<line x1="366.98" y1="593.26" x2="360.83" y2="613.86" stroke="#2a3a3a" stroke-width="0.8"/>
<path d="M292.39,573.47 A207.70,207.70 0 0 0 319.44,591.65 L317.92,594.35 L337.73,593.46 L327.54,577.28 L326.02,579.98 A194.30,194.30 0 0 1 300.71,562.97 Z" fill="#f5ef00" stroke="#8a8a30" stroke-width="0.9" stroke-linejoin="miter"/>
<path d="M237.00,506.28 A207.70,207.70 0 0 0 268.64,551.42 L266.36,553.52 L285.74,559.01 L280.77,540.24 L278.49,542.34 A194.30,194.30 0 0 1 248.90,500.12 Z" fill="#c6f6c6" stroke="#6a9a6a" stroke-width="0.9" stroke-linejoin="miter"/>
<path d="M230.50,492.52 A207.70,207.70 0 0 0 234.25,500.77 L231.45,502.12 L242.79,502.89 L249.11,493.62 L246.32,494.96 A194.30,194.30 0 0 1 242.81,487.24 Z" fill="#ffffff" stroke="#7a7a7a" stroke-width="0.9" stroke-linejoin="miter"/>
<path d="M224.43,476.60 A207.70,207.70 0 0 1 216.64,445.52 L229.85,443.27 A194.30,194.30 0 0 0 237.14,472.35 Z" fill="#ffffff" stroke="#7a7a7a" stroke-width="0.9" />
<path d="M216.64,445.52 A207.70,207.70 0 0 1 215.31,436.52 L212.23,436.90 L221.06,426.92 L231.68,434.47 L228.61,434.85 A194.30,194.30 0 0 0 229.85,443.27 Z" fill="#ffffff" stroke="#7a7a7a" stroke-width="0.9" stroke-linejoin="miter"/>
<path d="M214.35,427.18 A207.70,207.70 0 0 1 213.70,411.21 L227.10,411.17 A194.30,194.30 0 0 0 227.71,426.11 Z" fill="#fddcb8" stroke="#7a7a7a" stroke-width="0.9" />
<path d="M213.73,407.29 A207.70,207.70 0 0 1 214.22,395.96 L227.59,396.91 A194.30,194.30 0 0 0 227.13,407.51 Z" fill="#fddcb8" stroke="#7a7a7a" stroke-width="0.9" />
<path d="M221.21,355.37 A207.70,207.70 0 0 1 227.69,335.76 L240.19,340.59 A194.30,194.30 0 0 0 234.12,358.94 Z" fill="#fddcb8" stroke="#7a7a7a" stroke-width="0.9" />
<polygon points="231.59,318.53 235.79,319.07 246.10,324.16 249.13,327.05 244.98,326.46 234.60,321.50" fill="#c090b0" stroke="#8a6a80" stroke-width="0.7"/>
<path d="M248.20,296.06 A207.70,207.70 0 0 1 254.01,287.74 L264.81,295.67 A194.30,194.30 0 0 0 259.38,303.46 Z" fill="#fddcb8" stroke="#7a7a7a" stroke-width="0.9" />
<path d="M256.62,284.26 A207.70,207.70 0 0 1 262.99,276.36 L260.63,274.36 L275.00,272.98 L275.58,287.03 L273.21,285.03 A194.30,194.30 0 0 0 267.25,292.42 Z" fill="#ffffff" stroke="#7a7a7a" stroke-width="0.9" stroke-linejoin="miter"/>
<path d="M442.02,570.58 A161.20,161.20 0 0 1 431.80,571.56 L430.94,558.19 A147.80,147.80 0 0 0 440.31,557.29 Z" fill="#f5ef00" stroke="#8a8a30" stroke-width="0.9" />
<circle cx="242.6" cy="509.6" r="0.55" fill="#2a4a2a"/>
<circle cx="245.5" cy="508.0" r="0.55" fill="#2a4a2a"/>
<circle cx="248.0" cy="506.5" r="0.55" fill="#2a4a2a"/>
<text transform="translate(428.20 226.90) rotate(2.12)" x="0" y="3.20" font-size="8.9" fill="#222" text-anchor="middle" stroke="#222" stroke-width="0.15" textLength="67.87" lengthAdjust="spacingAndGlyphs">hPGK promoter</text>
<text transform="translate(468.40 243.70) rotate(15.72)" x="0" y="3.20" font-size="8.9" fill="#222" text-anchor="middle" stroke="#222" stroke-width="0.15" textLength="23.85" lengthAdjust="spacingAndGlyphs">KRAB</text>
<text transform="translate(544.60 252.00) rotate(37.82)" x="0" y="3.46" font-size="9.6" fill="#ffe4f2" text-anchor="middle" stroke="#ffe4f2" stroke-width="0.15" textLength="38.37" lengthAdjust="spacingAndGlyphs">Cas9(N)</text>
<text transform="translate(293.40 278.40) rotate(-44.05)" x="0" y="3.20" font-size="8.9" fill="#222" text-anchor="middle" stroke="#222" stroke-width="0.15" textLength="56.30" lengthAdjust="spacingAndGlyphs">U6 promoter</text>
<text transform="translate(279.20 311.20) rotate(-55.02)" x="0" y="3.20" font-size="8.9" fill="#222" text-anchor="middle" stroke="#222" stroke-width="0.15" textLength="41.36" lengthAdjust="spacingAndGlyphs">cPPT/CTS</text>
<text transform="translate(245.30 352.20) rotate(-71.62)" x="0" y="3.20" font-size="8.9" fill="#222" text-anchor="middle" stroke="#222" stroke-width="0.15" textLength="17.99" lengthAdjust="spacingAndGlyphs">RRE</text>
<text transform="translate(254.10 377.80) rotate(-78.87)" x="0" y="3.20" font-size="8.9" fill="#222" text-anchor="middle" stroke="#222" stroke-width="0.15" textLength="79.46" lengthAdjust="spacingAndGlyphs">5' LTR (truncated)</text>
<text transform="translate(235.50 390.90) rotate(-83.92)" x="0" y="3.20" font-size="8.9" fill="#222" text-anchor="middle" stroke="#222" stroke-width="0.15" textLength="33.59" lengthAdjust="spacingAndGlyphs">HIV-1 Ψ</text>
<text transform="translate(257.60 463.80) rotate(72.04)" x="0" y="3.20" font-size="8.9" fill="#222" text-anchor="middle" stroke="#222" stroke-width="0.15" textLength="64.11" lengthAdjust="spacingAndGlyphs">CMV promoter</text>
<text transform="translate(248.40 472.00) rotate(70.49)" x="0" y="3.20" font-size="8.9" fill="#222" text-anchor="middle" stroke="#222" stroke-width="0.15" textLength="64.69" lengthAdjust="spacingAndGlyphs">CMV enhancer</text>
<text transform="translate(274.50 524.00) rotate(52.36)" x="0" y="3.20" font-size="8.9" fill="#222" text-anchor="middle" stroke="#222" stroke-width="0.15" textLength="26.59" lengthAdjust="spacingAndGlyphs">AmpR</text>
<text transform="translate(312.50 581.60) rotate(32.51)" x="0" y="3.20" font-size="8.9" fill="#222" text-anchor="middle" stroke="#222" stroke-width="0.15" textLength="11.58" lengthAdjust="spacingAndGlyphs">ori</text>
<text transform="translate(348.50 576.80) rotate(23.70)" x="0" y="3.20" font-size="8.9" fill="#222" text-anchor="middle" stroke="#222" stroke-width="0.15" textLength="86.92" lengthAdjust="spacingAndGlyphs">SV40 poly(A) signal</text>
<text transform="translate(411.40 582.60) rotate(5.00)" x="0" y="3.20" font-size="8.9" fill="#222" text-anchor="middle" stroke="#222" stroke-width="0.15" textLength="67.19" lengthAdjust="spacingAndGlyphs">SV40 promoter</text>
<text transform="translate(411.90 594.60) rotate(2.96)" x="0" y="3.20" font-size="8.9" fill="#222" text-anchor="middle" stroke="#222" stroke-width="0.15" textLength="25.68" lengthAdjust="spacingAndGlyphs">BleoR</text>
<text transform="translate(435.60 549.50) rotate(-5.84)" x="0" y="3.20" font-size="8.9" fill="#222" text-anchor="middle" stroke="#222" stroke-width="0.15" textLength="37.47" lengthAdjust="spacingAndGlyphs">SV40 ori</text>
<text transform="translate(506.90 517.30) rotate(-38.73)" x="0" y="3.20" font-size="8.9" fill="#222" text-anchor="middle" stroke="#222" stroke-width="0.15" textLength="60.53" lengthAdjust="spacingAndGlyphs">Factor Xa site</text>
<text transform="translate(495.10 564.10) rotate(-25.66)" x="0" y="3.20" font-size="8.9" fill="#222" text-anchor="middle" stroke="#222" stroke-width="0.15" textLength="83.09" lengthAdjust="spacingAndGlyphs">bGH poly(A) signal</text>
<text transform="translate(479.70 586.50) rotate(-18.35)" x="0" y="3.20" font-size="8.9" fill="#222" text-anchor="middle" stroke="#222" stroke-width="0.15" textLength="23.20" lengthAdjust="spacingAndGlyphs">f1 ori</text>
<text transform="translate(534.20 556.40) rotate(-37.75)" x="0" y="3.20" font-size="8.9" fill="#222" text-anchor="middle" stroke="#222" stroke-width="0.15" textLength="54.33" lengthAdjust="spacingAndGlyphs">3' LTR (ΔU3)</text>
<text transform="translate(559.60 557.00) rotate(-43.37)" x="0" y="3.20" font-size="8.9" fill="#222" text-anchor="middle" stroke="#222" stroke-width="0.15" textLength="25.97" lengthAdjust="spacingAndGlyphs">WPRE</text>
<text transform="translate(570.30 520.30) rotate(-53.64)" x="0" y="3.20" font-size="8.9" fill="#222" text-anchor="middle" stroke="#222" stroke-width="0.15" textLength="18.45" lengthAdjust="spacingAndGlyphs">BSD</text>
<text transform="translate(583.90 501.90) rotate(-60.70)" x="0" y="3.20" font-size="8.9" fill="#222" text-anchor="middle" stroke="#222" stroke-width="0.15" textLength="17.12" lengthAdjust="spacingAndGlyphs">P2A</text>
<line x1="471.50" y1="233.00" x2="473.00" y2="222.00" stroke="#888" stroke-width="0.8"/>
<line x1="265.50" y1="301.30" x2="273.20" y2="307.90" stroke="#888" stroke-width="0.8"/>
<line x1="229.60" y1="418.60" x2="241.10" y2="418.60" stroke="#888" stroke-width="0.8"/>
<line x1="231.50" y1="434.80" x2="242.10" y2="433.40" stroke="#888" stroke-width="0.8"/>
<line x1="515.80" y1="526.20" x2="521.70" y2="535.70" stroke="#888" stroke-width="0.8"/>
<line x1="499.20" y1="573.60" x2="502.80" y2="584.20" stroke="#888" stroke-width="0.8"/>
<line x1="444.50" y1="590.50" x2="446.30" y2="599.70" stroke="#888" stroke-width="0.8"/>
<line x1="366.80" y1="594.50" x2="368.20" y2="599.00" stroke="#888" stroke-width="0.8"/>
<text x="312.00" y="409.90" font-size="10.2" fill="#111" font-weight="bold" stroke="#111" stroke-width="0.3" textLength="218.50" lengthAdjust="spacingAndGlyphs" >Lenti-(BB)-hPGK-KRAB-dCas9-P2A-BlastR</text>
<text x="401.70" y="420.00" font-size="8.4" fill="#333" stroke="#333" stroke-width="0.15" textLength="38.80" lengthAdjust="spacingAndGlyphs" >15,243 bp</text>
<path d="M614.2,10.6 L619.6,1.2 L621.6,2.2 L616.4,11.2 Z" fill="#c4def0"/>
<path d="M619.8,6.8 L622.4,9.4 L620.2,10.8 Z" fill="#c4def0"/>
<text x="630.80" y="10.40" font-size="12.3" fill="#d2d2d2" stroke="#d2d2d2" stroke-width="0.15" textLength="65.50" lengthAdjust="spacingAndGlyphs" >Created with</text>
<text x="700.50" y="10.40" font-size="12.3" fill="#f5c6c2" stroke="#f5c6c2" stroke-width="0.15" textLength="23.70" lengthAdjust="spacingAndGlyphs" >Snap</text>
<text x="724.70" y="10.40" font-size="12.3" fill="#d2d2d2" stroke="#d2d2d2" stroke-width="0.15" textLength="29.50" lengthAdjust="spacingAndGlyphs" >Gene</text>
<text x="754.60" y="6.00" font-size="6.5" fill="#d2d2d2" stroke="#d2d2d2" stroke-width="0.15" textLength="4.80" lengthAdjust="spacingAndGlyphs" >®</text>
</svg></body></html>
